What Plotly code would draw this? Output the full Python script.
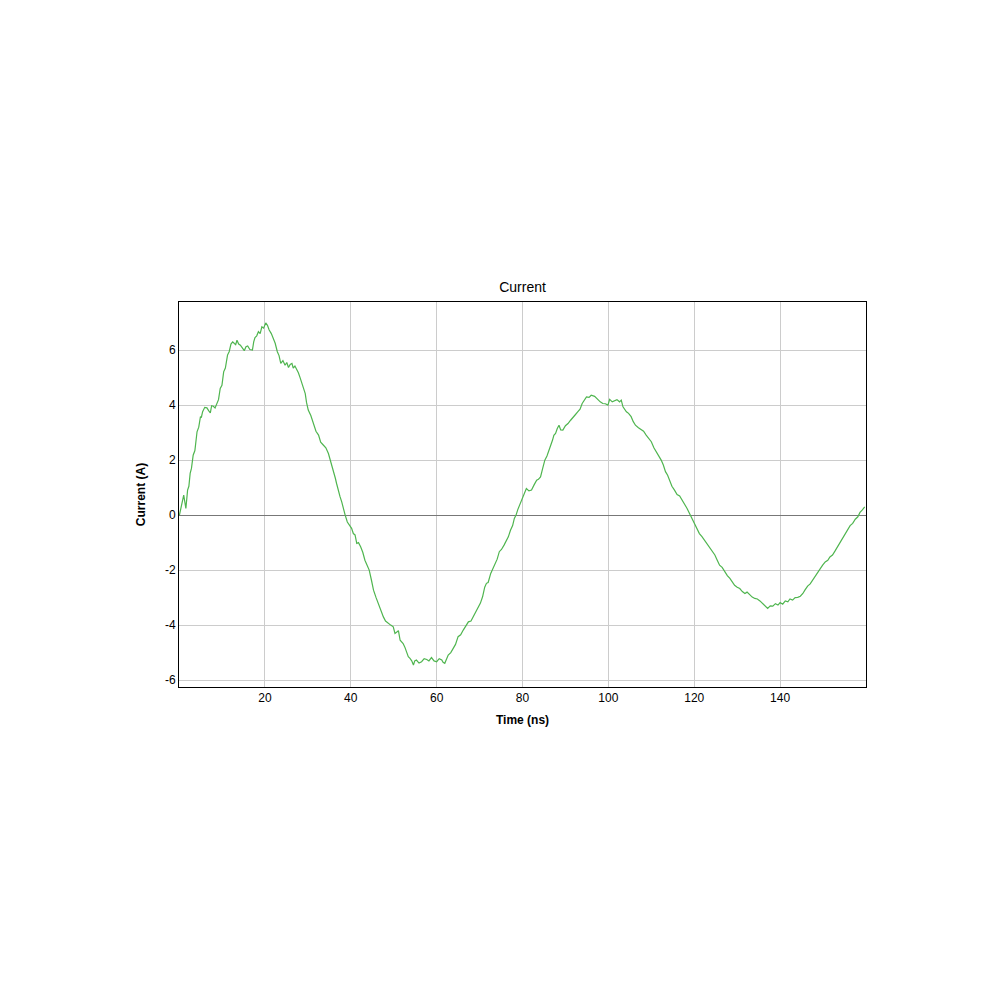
import plotly.graph_objects as go

time_ns = [
    0.1, 0.6, 1.1, 1.6, 2.0, 2.3, 2.6, 2.9, 3.3, 3.7, 4.2, 4.6, 5.0, 5.2, 5.5, 6.0, 6.5, 6.9, 7.3, 7.6,
    8.0, 8.4, 8.8, 9.2, 9.6, 10.0, 10.4, 10.8, 11.3, 11.7, 12.1, 12.5, 12.9, 13.2, 13.5, 13.9, 14.3, 14.7,
    15.2, 15.6, 16.0, 16.5, 17.1, 17.4, 17.7, 18.1, 18.5, 18.9, 19.3, 19.7, 20.2, 20.6, 21.0, 21.5, 22.0,
    22.4, 22.9, 23.3, 23.7, 24.2, 24.7, 25.1, 25.5, 25.9, 26.3, 26.6, 27.0, 27.4, 27.8, 28.2, 28.6, 29.0,
    29.4, 29.7, 30.1, 30.7, 31.3, 31.9, 32.5, 33.0, 33.6, 34.2, 34.8, 35.4, 36.0, 36.4, 36.7, 37.1, 37.5,
    37.9, 38.3, 38.7, 39.2, 39.8, 40.2, 40.6, 41.0, 41.4, 41.8, 42.3, 42.8, 43.3, 43.8, 44.3, 44.8, 45.3,
    45.9, 46.4, 47.0, 47.6, 48.1, 48.7, 49.3, 49.9, 50.3, 50.8, 51.1, 51.5, 51.9, 52.2, 52.6, 53.0, 53.4,
    53.8, 54.2, 54.6, 54.9, 55.3, 55.9, 56.5, 57.1, 57.7, 58.2, 58.8, 59.4, 60.0, 60.6, 61.2, 61.5, 61.9,
    62.3, 62.7, 63.3, 63.9, 64.4, 65.0, 65.6, 66.2, 66.8, 67.4, 68.0, 68.5, 69.1, 69.7, 70.2, 70.7, 71.2,
    71.6, 72.0, 72.6, 73.1, 73.6, 74.1, 74.6, 75.1, 75.7, 76.2, 76.7, 77.2, 77.7, 78.1, 78.5, 78.9, 79.3,
    79.7, 80.2, 80.5, 80.9, 81.5, 82.1, 82.7, 83.3, 83.7, 84.2, 84.7, 85.2, 85.7, 86.2, 86.6, 87.0, 87.3,
    87.7, 88.1, 88.5, 88.9, 89.4, 90.0, 90.6, 91.2, 91.8, 92.3, 92.9, 93.4, 93.9, 94.4, 94.9, 95.5, 96.0,
    96.8, 97.6, 98.1, 98.7, 99.3, 99.9, 100.3, 100.9, 101.5, 102.0, 102.6, 103.0, 103.4, 103.8, 104.2,
    104.7, 105.3, 105.8, 106.3, 107.0, 107.7, 108.2, 108.8, 109.4, 110.0, 110.6, 111.2, 111.7, 112.3,
    112.8, 113.3, 113.8, 114.3, 114.8, 115.4, 116.0, 116.6, 117.2, 117.7, 118.3, 118.9, 119.5, 120.1,
    120.6, 121.2, 121.8, 122.4, 123.0, 123.6, 124.2, 124.8, 125.3, 125.9, 126.5, 127.1, 127.7, 128.3,
    128.8, 129.4, 130.0, 130.6, 131.2, 131.8, 132.3, 132.9, 133.5, 134.1, 134.7, 135.3, 135.9, 136.4,
    136.8, 137.1, 137.7, 138.3, 138.9, 139.5, 140.0, 140.6, 141.2, 141.8, 142.3, 142.9, 143.5, 144.1,
    144.7, 145.3, 145.8, 146.4, 147.0, 147.6, 148.1, 148.7, 149.3, 149.9, 150.5, 151.1, 151.6, 152.2,
    152.8, 153.4, 154.0, 154.6, 155.1, 155.7, 156.3, 156.9, 157.5, 158.1, 158.6, 159.1, 159.7,
]

current_a = [
    0.00, 0.35, 0.73, 0.24, 0.91, 1.05, 1.52, 1.70, 2.18, 2.35, 3.03, 3.20, 3.58, 3.55, 3.76, 3.92, 3.90, 3.80, 3.72, 3.98,
    3.96, 3.90, 4.04, 4.20, 4.61, 4.72, 5.21, 5.35, 5.82, 5.95, 6.22, 6.30, 6.24, 6.20, 6.36, 6.22, 6.18, 6.10,
    5.98, 6.12, 6.15, 6.02, 6.00, 6.30, 6.46, 6.52, 6.67, 6.60, 6.85, 6.80, 6.99, 6.90, 6.73, 6.60, 6.42,
    6.25, 5.94, 5.80, 5.52, 5.62, 5.45, 5.55, 5.37, 5.48, 5.52, 5.35, 5.42, 5.30, 5.18, 5.00, 4.79, 4.62,
    4.42, 4.10, 3.82, 3.62, 3.33, 3.05, 2.91, 2.65, 2.55, 2.45, 2.24, 1.92, 1.64, 1.35, 1.15, 0.85, 0.67,
    0.48, 0.18, 0.00, -0.25, -0.42, -0.48, -0.67, -0.72, -1.03, -1.00, -1.15, -1.35, -1.64, -1.80, -2.00, -2.35, -2.73,
    -3.00, -3.21, -3.48, -3.70, -3.85, -3.94, -4.00, -4.06, -4.30, -4.24, -4.20, -4.55, -4.62, -4.67, -4.80, -4.97, -5.15,
    -5.21, -5.30, -5.45, -5.30, -5.27, -5.38, -5.33, -5.22, -5.25, -5.30, -5.18, -5.30, -5.33, -5.22, -5.27, -5.35, -5.39,
    -5.20, -5.09, -5.00, -4.85, -4.70, -4.42, -4.35, -4.18, -4.05, -3.88, -3.85, -3.70, -3.48, -3.33, -3.20, -2.97, -2.62,
    -2.48, -2.45, -2.12, -1.95, -1.76, -1.60, -1.33, -1.25, -1.09, -0.92, -0.79, -0.55, -0.38, -0.12, 0.00, 0.20, 0.36,
    0.50, 0.73, 0.85, 0.97, 0.88, 0.91, 1.10, 1.27, 1.30, 1.39, 1.70, 2.00, 2.15, 2.36, 2.60, 2.73, 2.90,
    2.97, 3.15, 3.27, 3.10, 3.09, 3.25, 3.33, 3.45, 3.58, 3.65, 3.76, 3.85, 4.06, 4.20, 4.30, 4.28, 4.36,
    4.32, 4.18, 4.12, 4.06, 4.05, 4.00, 4.21, 4.12, 4.15, 4.20, 4.12, 4.18, 3.94, 3.85, 3.76,
    3.70, 3.58, 3.40, 3.27, 3.18, 3.09, 3.05, 2.91, 2.80, 2.67, 2.45, 2.30, 2.18, 2.00,
    1.82, 1.58, 1.45, 1.27, 1.05, 0.91, 0.75, 0.70, 0.55, 0.42, 0.25, 0.06, -0.12, -0.30,
    -0.45, -0.67, -0.78, -0.91, -1.05, -1.21, -1.30, -1.45, -1.62, -1.82, -1.90, -2.06, -2.20, -2.30,
    -2.40, -2.55, -2.62, -2.67, -2.78, -2.85, -2.80, -2.91, -2.98, -3.03, -3.05, -3.12, -3.20, -3.27,
    -3.35, -3.39, -3.30, -3.31, -3.22, -3.27, -3.18, -3.24, -3.12, -3.15, -3.05, -3.09, -3.00, -2.99,
    -2.95, -2.85, -2.72, -2.58, -2.50, -2.36, -2.20, -2.06, -1.95, -1.82, -1.70, -1.64, -1.52, -1.45,
    -1.30, -1.15, -0.98, -0.85, -0.70, -0.55, -0.38, -0.30, -0.15, -0.06, 0.10, 0.18, 0.30,
]

x_ticks = [20, 40, 60, 80, 100, 120, 140]
y_ticks = [-6, -4, -2, 0, 2, 4, 6]

FONT = "Liberation Sans, Arial, sans-serif"

fig = go.Figure()
fig.add_trace(go.Scatter(
    x=time_ns, y=current_a, mode="lines",
    line=dict(color="#4fb54f", width=1.2),
    showlegend=False,
))

fig.update_layout(
    width=1000, height=1000,
    paper_bgcolor="white", plot_bgcolor="white",
    margin=dict(l=171, r=142, t=294, b=321),
    font=dict(family=FONT, size=12, color="black"),
    title=dict(text="Current", x=0.5, xref="paper", xanchor="center",
               y=0.721, yref="container", yanchor="middle",
               font=dict(family=FONT, size=14, color="black")),
)

fig.update_xaxes(
    range=[0, 160], tickvals=x_ticks, ticktext=[str(v) for v in x_ticks],
    showgrid=True, gridcolor="#cccccc", gridwidth=1,
    zeroline=False, showline=True, linecolor="black", linewidth=1, mirror=True,
    ticks="", tickfont=dict(size=12),
    title=dict(text="<b>Time (ns)</b>", font=dict(size=12), standoff=11),
)
fig.update_yaxes(
    range=[-6.25, 7.75], tickvals=y_ticks, ticktext=[str(v) for v in y_ticks],
    showgrid=True, gridcolor="#cccccc", gridwidth=1,
    zeroline=True, zerolinecolor="#777777", zerolinewidth=1,
    showline=True, linecolor="black", linewidth=1, mirror=True,
    ticks="", tickfont=dict(size=12),
    title=dict(text="<b>Current (A)</b>", font=dict(size=12), standoff=16),
)

fig.write_html("out.html")
